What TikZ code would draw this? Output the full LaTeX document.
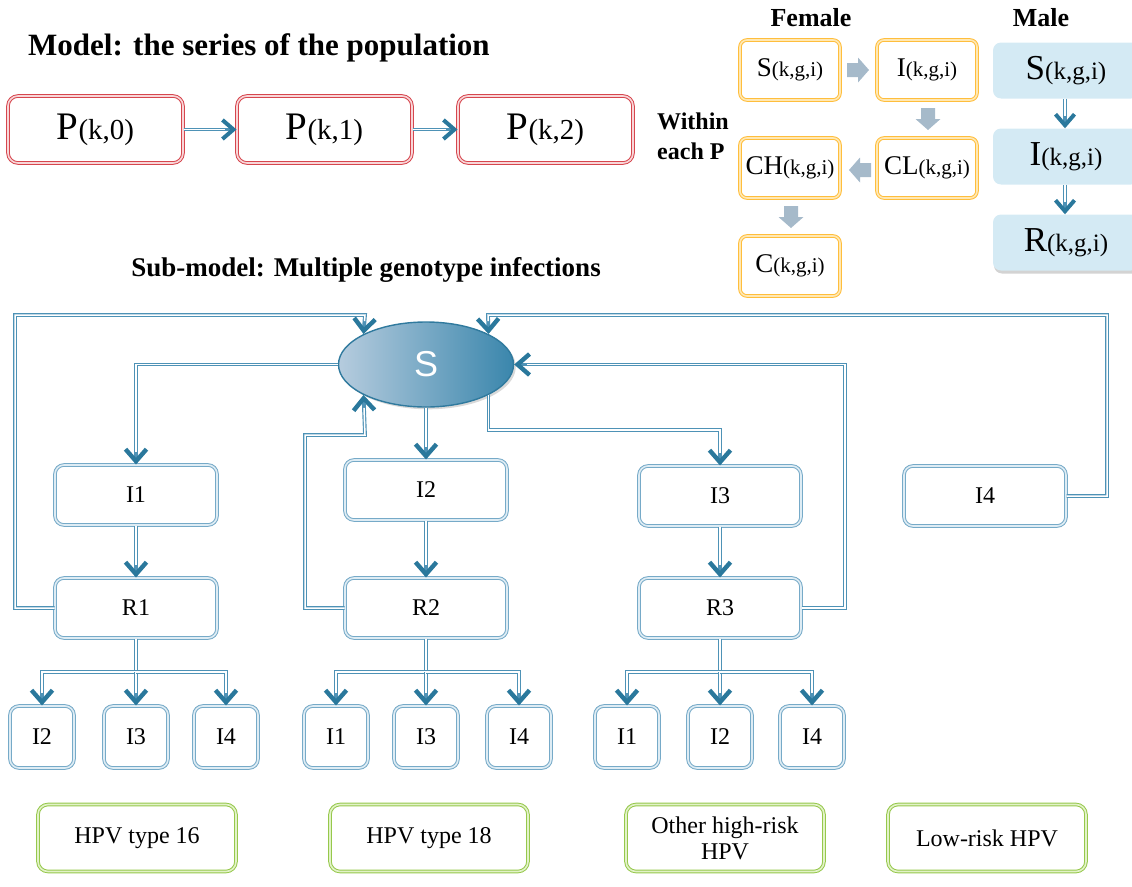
\documentclass[tikz,border=0pt]{standalone}
\usepackage{fontspec}
\setmainfont{Liberation Serif}
\newfontfamily\sansf{Liberation Sans}
\usetikzlibrary{arrows.meta,shapes.geometric,shadows}
\definecolor{tealc}{RGB}{78,146,182}
\definecolor{tipc}{RGB}{42,120,156}
\definecolor{bluebox}{RGB}{118,170,200}
\definecolor{bluegap}{RGB}{222,236,244}
\definecolor{redc}{RGB}{214,70,78}
\definecolor{redgap}{RGB}{248,214,216}
\definecolor{orc}{RGB}{255,190,60}
\definecolor{orgap}{RGB}{255,232,180}
\definecolor{grc}{RGB}{150,200,76}
\definecolor{grgap}{RGB}{226,242,200}
\definecolor{malefill}{RGB}{212,234,244}
\definecolor{greyarr}{RGB}{166,186,202}
\definecolor{sleft}{RGB}{182,204,222}
\definecolor{sright}{RGB}{58,134,172}
\definecolor{sedge}{RGB}{48,122,158}
\newcommand{\fs}[1]{\fontsize{#1}{#1}\selectfont}
\newcommand{\lbl}[4]{{\fs{#1}#2}{\fs{#3}#4}}
\begin{document}
\begin{tikzpicture}[x=1pt,y=-1pt,
  dbox/.style={double distance=1.6pt, line width=1pt, inner sep=0pt, align=center},
  bbox/.style={dbox, draw=bluebox, double=bluegap, rounded corners=9pt,
    minimum width=162pt, minimum height=60pt, font=\fs{24}},
  sbox/.style={bbox, minimum width=64pt, minimum height=62pt},
  pbox/.style={dbox, draw=redc, double=redgap, rounded corners=10pt,
    minimum width=175pt, minimum height=67pt},
  fbox/.style={dbox, draw=orc, double=orgap, rounded corners=7pt,
    minimum width=100pt, minimum height=60pt},
  mbox/.style={fill=malefill, rounded corners=8pt, inner sep=0pt,
    minimum width=146pt, minimum height=56pt},
  gbox/.style={dbox, draw=grc, double=grgap, rounded corners=10pt,
    minimum width=198pt, minimum height=67pt, font=\fs{24}},
  blkarrow/.pic={\fill[greyarr] (-11,-7) -- (0,-7) -- (0,-12.5) -- (11,0)
    -- (0,12.5) -- (0,7) -- (-11,7) -- cycle;},
  dl/.style={draw=tealc, line width=3.8pt, postaction={draw=white, line width=1.5pt}},
  dla/.style={draw=tealc, line width=3.8pt,
    -{Straight Barb[length=12pt,width=21pt,line width=4.4pt,color=tipc]},
    postaction={draw=white, line width=1.5pt, -, shorten >=13pt}},
  dlsmall/.style={draw=tealc, line width=3.2pt,
    -{Straight Barb[length=11pt,width=19pt,line width=4pt,color=tipc]},
    postaction={draw=white, line width=1.2pt, -, shorten >=12pt}},
  head/.style={font=\bfseries\fs{#1}, inner sep=0pt},
]
\useasboundingbox (0,0) rectangle (1132,886);

% ---------- population chain ----------
\node[head=31, anchor=west] (title) at (28,48) {Model: the series of the population};
\node[pbox] (P0) at (95.5,129.5) {\lbl{39}{P}{29}{(k,0)}};
\node[pbox] (P1) at (324.5,129.5) {\lbl{39}{P}{29}{(k,1)}};
\node[pbox] (P2) at (545.5,129.5) {\lbl{39}{P}{29}{(k,2)}};
\draw[dlsmall] (P0) -- (P1);
\draw[dlsmall] (P1) -- (P2);

% ---------- compartments within each P ----------
\node[head=26] (fem) at (811,18) {Female};
\node[head=26] (mal) at (1041,18) {Male};
\node[head=24, anchor=west, align=left] (within) at (657,136) {Within\\[6pt]each P};

\node[fbox] (Sf)  at (790,70)  {\lbl{27}{S}{21}{(k,g,i)}};
\node[fbox] (If)  at (927,70)  {\lbl{27}{I}{21}{(k,g,i)}};
\node[fbox] (CHf) at (790,168) {\lbl{27}{CH}{21}{(k,g,i)}};
\node[fbox] (CLf) at (927,168) {\lbl{27}{CL}{21}{(k,g,i)}};
\node[fbox] (Cf)  at (790,266) {\lbl{27}{C}{21}{(k,g,i)}};

\pic at (858,70) {blkarrow};
\pic[rotate=-90] at (928,119) {blkarrow};
\pic[rotate=180] at (860,170) {blkarrow};
\pic[rotate=-90] at (791,217) {blkarrow};

\node[mbox] (Sm) at (1066,70.5)  {\lbl{35}{S}{25}{(k,g,i)}};
\node[mbox] (Im) at (1066,156.5) {\lbl{35}{I}{25}{(k,g,i)}};
\node[mbox, drop shadow={opacity=0.35, shadow xshift=1pt, shadow yshift=-3pt}] (Rm) at (1066,242.5) {\lbl{35}{R}{25}{(k,g,i)}};
\draw[dlsmall] (Sm.south -| 1065,0) -- (Im.north -| 1065,0);
\draw[dlsmall] (Im.south -| 1065,0) -- (Rm.north -| 1065,0);

% ---------- multiple genotype sub-model ----------
\node[head=27] (sub) at (366,270) {Sub-model: Multiple genotype infections};

\node[ellipse, draw=sedge, line width=1.4pt, minimum width=175pt, minimum height=85pt,
  shading=axis, left color=sleft, middle color=sleft, right color=sright,
  drop shadow={opacity=0.3}, font=\sansf\fs{36}, text=white] (S) at (426,364.5) {S};

\node[bbox] (I1) at (136,495) {I1};
\node[bbox] (I2) at (426,490) {I2};
\node[bbox] (I3) at (720,496) {I3};
\node[bbox] (I4) at (985,496) {I4};
\node[bbox] (R1) at (136,608) {R1};
\node[bbox] (R2) at (426,608) {R2};
\node[bbox] (R3) at (720,608) {R3};

\node[sbox] (b11) at (42,737)  {I2};
\node[sbox] (b12) at (136,737) {I3};
\node[sbox] (b13) at (226,737) {I4};
\node[sbox] (b21) at (336,737) {I1};
\node[sbox] (b22) at (426,737) {I3};
\node[sbox] (b23) at (519,737) {I4};
\node[sbox] (b31) at (627,737) {I1};
\node[sbox] (b32) at (720,737) {I2};
\node[sbox] (b33) at (812,737) {I4};

\node[gbox] (g1) at (137,838) {HPV type 16};
\node[gbox] (g2) at (429,838) {HPV type 18};
\node[gbox, font={\fontsize{24}{26}\selectfont}] (g3) at (725,838) {Other high-risk\\HPV};
\node[gbox] (g4) at (987,838) {Low-risk HPV};

% infection flows out of S
\draw[dla] (S.west) -| (I1.north);
\draw[dla] (S.south) -- (I2.north);
\coordinate (k3) at (720,430);
\draw[dla] (S.-26) |- (k3) -- (I3.north);

% clearance I -> R
\draw[dla] (I1) -- (R1);
\draw[dla] (I2) -- (R2);
\draw[dla] (I3) -- (R3);

% return flows to S
\coordinate (c1) at (15,608);
\coordinate (t1) at (365,315);
\draw[dla] (R1.west) -- (c1) |- (t1) -- (S.154);
\coordinate (c2) at (305,608);
\coordinate (t2) at (365,435);
\draw[dla] (R2.west) -- (c2) |- (t2) -- (S.206);
\coordinate (c3) at (845,608);
\draw[dla] (R3.east) -- (c3) |- (S.east);
\coordinate (c4) at (1107,496);
\coordinate (t4) at (488,315);
\draw[dla] (I4.east) -- (c4) |- (t4) -- (S.26);

% co-infection branches from R
\coordinate (j1) at (136,672);
\coordinate (j2) at (426,672);
\coordinate (j3) at (720,672);
\draw[dl] (R1.south) -- (j1);
\draw[dl] (R2.south) -- (j2);
\draw[dl] (R3.south) -- (j3);
\draw[dla] (j1) -| (b11.north);
\draw[dla] (j1) -- (b12.north);
\draw[dla] (j1) -| (b13.north);
\draw[dla] (j2) -| (b21.north);
\draw[dla] (j2) -- (b22.north);
\draw[dla] (j2) -| (b23.north);
\draw[dla] (j3) -| (b31.north);
\draw[dla] (j3) -- (b32.north);
\draw[dla] (j3) -| (b33.north);
\end{tikzpicture}
\end{document}
